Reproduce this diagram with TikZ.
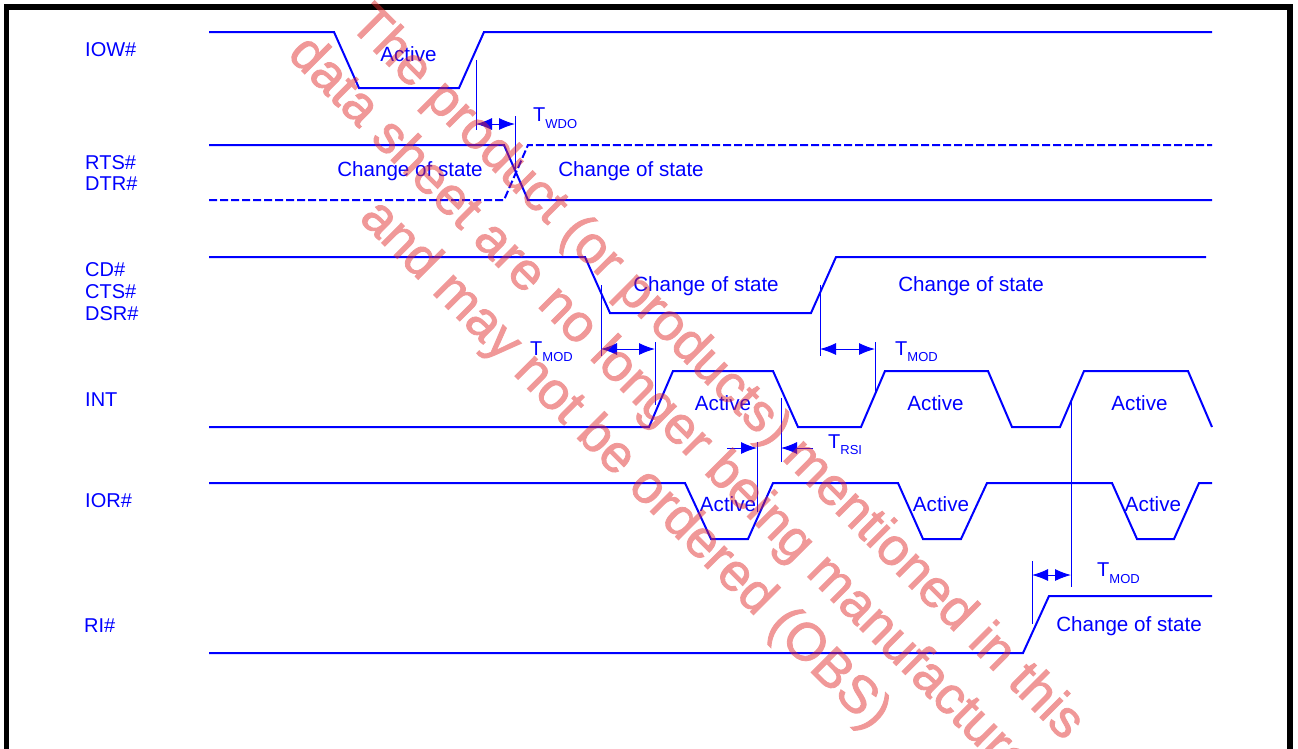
\documentclass[tikz,border=0pt]{standalone}
\usepackage{fontspec}
\setmainfont{Liberation Sans}
\newfontfamily\wmfont[FakeBold=1.6]{Liberation Sans}
\usetikzlibrary{arrows.meta}
\definecolor{sig}{RGB}{0,0,255}
\definecolor{wm}{RGB}{225,40,40}
\newcommand{\tsub}[1]{T\raisebox{-6.7pt}{\fontsize{13}{13}\selectfont #1}}
\begin{document}
\begin{tikzpicture}[x=1pt,y=-1pt,
  wave/.style={sig, line width=2pt, line join=miter},
  wavedash/.style={wave, dash pattern=on 8pt off 3pt},
  guide/.style={sig, line width=1pt},
  dimarrow/.style={sig, line width=1pt, {Latex[length=16pt,width=12pt]}-{Latex[length=16pt,width=12pt]}},
  onearrow/.style={sig, line width=1pt, -{Latex[length=16pt,width=12pt]}},
  siglabel/.style={text=sig, font=\fontsize{20}{21.5}\selectfont, inner sep=0pt, anchor=base west},
  statetext/.style={text=sig, font=\fontsize{20.6}{21.5}\selectfont, inner sep=0pt, anchor=base},
  tlabel/.style={text=sig, font=\fontsize{20}{21.5}\selectfont, inner sep=0pt, anchor=base west},
  frame/.style={black, line width=5.5pt}
]
\useasboundingbox (0,0) rectangle (1298,748);
\fill[white] (0,0) rectangle (1298,748);

% frame
\draw[frame] (6.5,770) -- (6.5,7) -- (1290,7) -- (1290,770);

% signal names
\node[siglabel] (lIOW) at (85,56) {IOW\#};
\node[siglabel] (lRTS) at (85,169) {RTS\#};
\node[siglabel] (lDTR) at (85,190) {DTR\#};
\node[siglabel] (lCD) at (85,276.5) {CD\#};
\node[siglabel] (lCTS) at (85,298) {CTS\#};
\node[siglabel] (lDSR) at (85,320) {DSR\#};
\node[siglabel] (lINT) at (85,406) {INT};
\node[siglabel] (lIOR) at (85,507) {IOR\#};
\node[siglabel] (lRI) at (84,632) {RI\#};

% waveforms
\draw[wave] (209,32) -- (334,32) -- (359,88) -- (459,88) -- (484,32) -- (1212,32);
\draw[wave] (209,145) -- (504,145) -- (528,200) -- (1212,200);
\draw[wavedash] (209,200) -- (504,200) -- (528,145) -- (1212,145);
\draw[wave] (209,257) -- (585,257) -- (610,313) -- (811,313) -- (836,257) -- (1206,257);
\draw[wave] (209,427) -- (649,427) -- (673,371) -- (773,371) -- (798,427) -- (861,427) -- (885,371) -- (988,371) -- (1012,427) -- (1060,427) -- (1084,371) -- (1188,371) -- (1212,427);
\draw[wave] (209,483) -- (685,483) -- (711,539) -- (748,539) -- (773,483) -- (898,483) -- (923,539) -- (961,539) -- (987,483) -- (1112,483) -- (1137,539) -- (1174,539) -- (1199,483) -- (1212,483);
\draw[wave] (209,653) -- (1023,653) -- (1049,596) -- (1212,596);

% state texts
\node[statetext] (s1) at (408.5,61.7) {Active};
\node[statetext] (s2) at (410,176) {Change of state};
\node[statetext] (s3) at (631,176) {Change of state};
\node[statetext] (s4) at (706,291.5) {Change of state};
\node[statetext] (s5) at (971,291) {Change of state};
\node[statetext] (s6) at (723,410.5) {Active};
\node[statetext] (s7) at (935.5,410.5) {Active};
\node[statetext] (s8) at (1139.5,410.5) {Active};
\node[statetext] (s9) at (728,511.5) {Active};
\node[statetext] (s10) at (941,511.5) {Active};
\node[statetext] (s11) at (1153,511.5) {Active};
\node[statetext] (s12) at (1129,631) {Change of state};

% guide lines (named end points)
\coordinate (g1a) at (476,60);   \coordinate (g1b) at (476,130);
\coordinate (g2a) at (515,116);  \coordinate (g2b) at (515,172);
\coordinate (g3a) at (601,285);  \coordinate (g3b) at (601,356);
\coordinate (g4a) at (655,342);  \coordinate (g4b) at (655,405);
\coordinate (g5a) at (820,285);  \coordinate (g5b) at (820,356);
\coordinate (g6a) at (875,342);  \coordinate (g6b) at (875,393);
\coordinate (g7a) at (757,442);  \coordinate (g7b) at (757,512);
\coordinate (g8a) at (781,398);  \coordinate (g8b) at (781,462);
\coordinate (g9a) at (1032,561); \coordinate (g9b) at (1032,624);
\coordinate (g10a) at (1071,398); \coordinate (g10b) at (1071,587);
\foreach \g in {1,...,10} {\draw[guide] (g\g a) -- (g\g b);}

% timing arrows
\coordinate (w1) at (476,124); \coordinate (w2) at (515,124);
\draw[dimarrow] (w1) -- (w2);
\coordinate (m1) at (601,349); \coordinate (m2) at (655,349);
\draw[dimarrow] (m1) -- (m2);
\coordinate (m3) at (820,349); \coordinate (m4) at (875,349);
\draw[dimarrow] (m3) -- (m4);
\coordinate (m5) at (1032,575); \coordinate (m6) at (1071,575);
\draw[dimarrow] (m5) -- (m6);
\coordinate (r0) at (727,448); \coordinate (r1) at (757,448);
\coordinate (r2) at (781,448); \coordinate (r3) at (813,448);
\draw[onearrow] (r0) -- (r1);
\draw[onearrow] (r3) -- (r2);

% timing labels
\node[tlabel] (tw) at (533,121.7) {\tsub{WDO}};
\node[tlabel] (tm1) at (530,355) {\tsub{MOD}};
\node[tlabel] (tm2) at (895,355) {\tsub{MOD}};
\node[tlabel] (tr) at (828,448) {\tsub{RSI}};
\node[tlabel] (tm3) at (1097,576.7) {\tsub{MOD}};

% watermark
\begin{scope}[transparency group, opacity=0.48]
\node[rotate=-45, align=center, text=wm, inner sep=0pt,
      font=\wmfont\fontsize{53}{65}\selectfont] (wmark) at (670,420)
  {The product (or products) mentioned in this\\data sheet are no longer being manufactured\\and may not be ordered (OBS)};
\end{scope}
\end{tikzpicture}
\end{document}
